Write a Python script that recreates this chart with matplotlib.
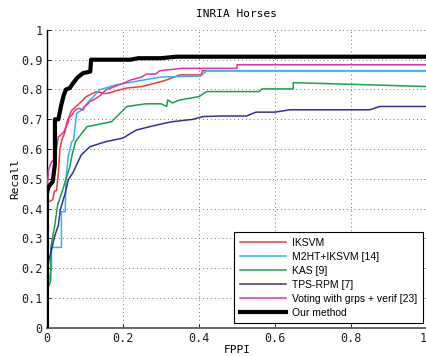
import matplotlib
matplotlib.use('Agg')
import matplotlib.pyplot as plt

# FPPI / recall curves
ours_x = [0, 0, 0.003, 0.008, 0.015, 0.021, 0.021, 0.03, 0.033, 0.038, 0.044, 0.05,
          0.06, 0.068, 0.08, 0.095, 0.114, 0.116, 0.22, 0.24, 0.30, 0.34, 1.0]
ours_y = [0, 0.45, 0.47, 0.48, 0.49, 0.55, 0.70, 0.70, 0.72, 0.75, 0.78, 0.80,
          0.805, 0.82, 0.84, 0.855, 0.86, 0.90, 0.90, 0.905, 0.905, 0.91, 0.91]

iksvm_x = [0, 0.015, 0.02, 0.025, 0.03, 0.034, 0.039, 0.048, 0.052, 0.065, 0.087, 0.103,
           0.13, 0.15, 0.16, 0.18, 0.21, 0.25, 0.31, 0.35, 0.405, 0.41, 1.0]
iksvm_y = [0.42, 0.43, 0.46, 0.46, 0.52, 0.60, 0.63, 0.66, 0.69, 0.73, 0.755, 0.776,
           0.793, 0.787, 0.787, 0.795, 0.805, 0.81, 0.83, 0.849, 0.849, 0.863, 0.863]

m2ht_x = [0, 0.005, 0.012, 0.012, 0.038, 0.038, 0.048, 0.05, 0.056, 0.065, 0.07, 0.078,
          0.09, 0.11, 0.14, 0.155, 0.18, 0.2, 0.255, 0.3, 0.405, 0.42, 1.0]
m2ht_y = [0.13, 0.16, 0.20, 0.27, 0.27, 0.39, 0.39, 0.50, 0.575, 0.625, 0.63, 0.72,
          0.73, 0.76, 0.80, 0.805, 0.815, 0.82, 0.832, 0.842, 0.845, 0.863, 0.863]

kas_x = [0, 0.006, 0.01, 0.01, 0.02, 0.029, 0.03, 0.038, 0.047, 0.05, 0.06, 0.066, 0.075,
         0.085, 0.105, 0.17, 0.2, 0.21, 0.26, 0.3, 0.315, 0.318, 0.33, 0.35, 0.4, 0.42,
         0.558, 0.566, 0.648, 0.648, 1.0]
kas_y = [0.13, 0.144, 0.16, 0.27, 0.34, 0.42, 0.42, 0.45, 0.487, 0.50, 0.54, 0.58, 0.625,
         0.642, 0.675, 0.692, 0.73, 0.743, 0.752, 0.752, 0.743, 0.765, 0.755, 0.765, 0.776,
         0.793, 0.793, 0.802, 0.802, 0.823, 0.81]

tps_x = [0, 0.005, 0.012, 0.02, 0.03, 0.035, 0.048, 0.056, 0.068, 0.09, 0.113, 0.155,
         0.2, 0.235, 0.27, 0.31, 0.33, 0.385, 0.41, 0.455, 0.525, 0.55, 0.6, 0.64, 0.85,
         0.875, 1.0]
tps_y = [0.18, 0.228, 0.262, 0.306, 0.345, 0.396, 0.452, 0.497, 0.52, 0.58, 0.608, 0.625,
         0.637, 0.664, 0.675, 0.687, 0.692, 0.70, 0.709, 0.711, 0.711, 0.724, 0.724,
         0.732, 0.732, 0.743, 0.743]

vote_x = [0, 0.004, 0.012, 0.02, 0.025, 0.03, 0.035, 0.045, 0.05, 0.055, 0.058, 0.066,
          0.074, 0.084, 0.095, 0.1, 0.109, 0.113, 0.122, 0.136, 0.142, 0.155, 0.166, 0.188,
          0.2, 0.22, 0.248, 0.262, 0.286, 0.297, 0.355, 0.367, 0.5, 0.5, 1.0]
vote_y = [0.457, 0.53, 0.558, 0.564, 0.60, 0.642, 0.645, 0.659, 0.676, 0.687, 0.704,
          0.715, 0.731, 0.737, 0.731, 0.743, 0.754, 0.76, 0.765, 0.776, 0.782, 0.799,
          0.804, 0.815, 0.82, 0.832, 0.841, 0.852, 0.852, 0.863, 0.871, 0.871, 0.871,
          0.883, 0.883]

labels = ['IKSVM', 'M2HT+IKSVM [14]', 'KAS [9]', 'TPS-RPM [7]',
          'Voting with grps + verif [23]', 'Our method']
colors = ['#f03c3c', '#30b4ec', '#18a050', '#323296', '#e8329e', '#000000']

mono = ['DejaVu Sans Mono']
narrow = ['Liberation Sans Narrow', 'Liberation Sans', 'DejaVu Sans']

fig = plt.figure(figsize=(4.27, 3.56), dpi=100)
ax = fig.add_axes([0.110, 0.079, 0.890, 0.837])

series = [(iksvm_x, iksvm_y), (m2ht_x, m2ht_y), (kas_x, kas_y),
          (tps_x, tps_y), (vote_x, vote_y)]
for (xs, ys), lab, col in zip(series, labels[:5], colors[:5]):
    ax.plot(xs, ys, color=col, linewidth=1.1, label=lab, zorder=3)
ax.plot(ours_x, ours_y, color='black', linewidth=3.0, label=labels[5], zorder=4)

ax.set_xlim(0, 1)
ax.set_ylim(0, 1)
ax.set_xticks([0, 0.2, 0.4, 0.6, 0.8, 1])
ax.set_xticklabels(['0', '0.2', '0.4', '0.6', '0.8', '1'])
ax.set_yticks([i / 10 for i in range(11)])
ax.set_yticklabels(['0'] + ['0.%d' % i for i in range(1, 10)] + ['1'])
for t in ax.get_xticklabels() + ax.get_yticklabels():
    t.set_family(mono)
    t.set_fontsize(8.5)
    t.set_color('#222222')
ax.get_xticklabels()[-1].set_horizontalalignment('right')
ax.tick_params(direction='in', length=3, width=0.6, pad=3)

ax.grid(True, color='#777777', linestyle=(0, (1, 3)), linewidth=0.7, zorder=1)
ax.spines['top'].set_visible(False)
ax.spines['right'].set_visible(False)
ax.spines['left'].set_linewidth(1.0)
ax.spines['bottom'].set_linewidth(1.4)
ax.spines['bottom'].set_color('#666666')

ax.set_title('INRIA Horses', family=mono, fontsize=8, pad=9)
ax.set_xlabel('FPPI', family=mono, fontsize=8, labelpad=0)
ax.set_ylabel('Recall', family=mono, fontsize=8, labelpad=1)

leg = ax.legend(loc='lower right', bbox_to_anchor=(0.99, 0.015), prop={'family': narrow, 'size': 7.5},
                fancybox=False, edgecolor='black', framealpha=1, handlelength=4.4,
                handletextpad=0.6, labelspacing=0.38, borderpad=0.55, borderaxespad=0)
leg.get_frame().set_linewidth(0.8)
leg.set_zorder(5)

fig.savefig('out.png', dpi=100)
